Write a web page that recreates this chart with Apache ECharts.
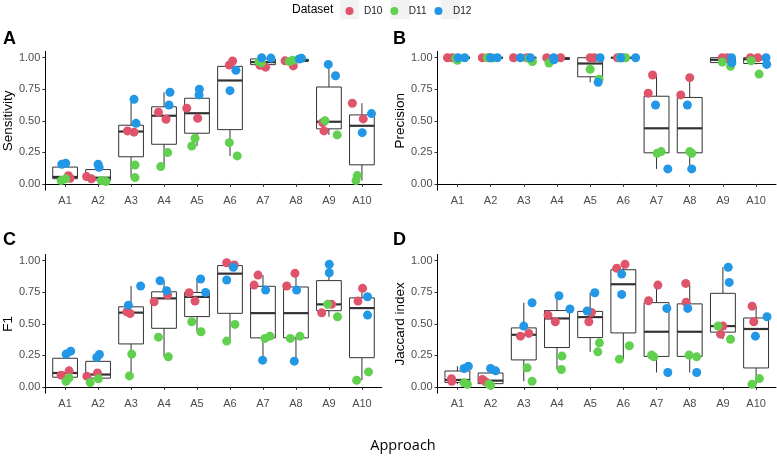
<!DOCTYPE html>
<html><head><meta charset="utf-8">
<script src="https://cdn.jsdelivr.net/npm/echarts@6/dist/echarts.min.js"></script>
<style>html,body{margin:0;padding:0;background:#fff}#c{width:777px;height:457px}</style>
</head><body><div id="c"></div>
<script>
// ---------- DATA ----------
const approaches = ['A1','A2','A3','A4','A5','A6','A7','A8','A9','A10'];
const datasets = ['D10','D11','D12'];
const metricNames = ['Sensitivity','Precision','F1','Jaccard index'];
const panelLetters = ['A','B','C','D'];
const yTicks = [0, 0.25, 0.5, 0.75, 1];
// two values per approach (A1a, A1b, A2a, A2b, ...)
const sensD10 = [0.065,0.045, 0.058,0.040, 0.42,0.41, 0.568,0.512, 0.60,0.52, 0.942,0.974, 0.94,0.925, 0.975,0.935, 0.485,0.42, 0.639,0.515];
const sensD11 = [0.026,0.040, 0.026,0.018, 0.15,0.05, 0.248,0.137, 0.362,0.30, 0.327,0.222, 0.97,0.96, 0.97,0.98, 0.50,0.388, 0.066,0.026];
const sensD12 = [0.156,0.164, 0.156,0.132, 0.67,0.48, 0.726,0.625, 0.75,0.705, 0.90,0.739, 1.0,0.997, 0.995,0.99, 0.947,0.857, 0.557,0.406];
const precD10 = [1,1, 1,1, 1,1, 1,1, 1,1, 1,1, 0.863,0.718, 0.842,0.705, 1,1, 1,1];
const precD11 = [0.98,0.995, 1,0.998, 0.97,0.995, 0.958,0.99, 0.908,0.829, 1,1, 0.243,0.256, 0.256,0.243, 0.966,0.932, 0.976,0.87];
const precD12 = [1,1, 1,1, 1,1, 0.984,1.0, 1.0,0.805, 1,1, 0.625,0.119, 0.625,0.119, 1.0,0.96, 1.0,0.947];
const f1D10 = [0.093,0.127, 0.085,0.111, 0.595,0.582, 0.675,0.728, 0.746,0.68, 0.984,0.966, 0.886,0.807, 0.90,0.80, 0.587,0.654, 0.781,0.68];
const f1D11 = [0.045,0.071, 0.035,0.064, 0.26,0.087, 0.394,0.238, 0.516,0.437, 0.363,0.495, 0.384,0.402, 0.384,0.402, 0.654,0.556, 0.053,0.119];
const f1D12 = [0.26,0.283, 0.233,0.257, 0.80,0.648, 0.841,0.762, 0.855,0.749, 0.948,0.847, 0.767,0.212, 0.767,0.204, 0.971,0.905, 0.714,0.569];
const jacD10 = [0.065,0.045, 0.059,0.040, 0.402,0.424, 0.569,0.516, 0.59,0.516, 0.94,0.971, 0.807,0.683, 0.82,0.67, 0.482,0.418, 0.64,0.516];
const jacD11 = [0.032,0.021, 0.021,0.013, 0.151,0.045, 0.244,0.138, 0.349,0.278, 0.22,0.326, 0.252,0.238, 0.252,0.238, 0.482,0.378, 0.021,0.066];
const jacD12 = [0.146,0.164, 0.146,0.127, 0.667,0.482, 0.722,0.617, 0.746,0.601, 0.894,0.733, 0.622,0.114, 0.622,0.114, 0.948,0.828, 0.556,0.402];
// horizontal jitter (in category units)
const sensJitD10 = [0.10,0.15, -0.35,-0.20, -0.11,0.09, -0.17,0.06, -0.31,0.02, -0.02,0.08, -0.09,0.08, -0.33,-0.08, -0.19,-0.15, -0.29,0.04];
const sensJitD11 = [-0.12,0.02, 0.10,0.24, 0.12,0.12, 0.11,-0.10, -0.06,-0.16, -0.02,0.22, -0.12,-0.05, -0.20,-0.10, -0.12,0.25, -0.14,-0.18];
const sensJitD12 = [-0.10,0.02, 0.00,0.03, 0.09,0.15, 0.18,0.15, 0.07,0.06, 0.18,0.00, -0.04,0.24, 0.17,0.10, -0.02,0.20, 0.29,0.01];
const precJitD10 = [-0.30,-0.15, -0.25,-0.05, -0.31,0.09, -0.31,0.11, 0.00,0.13, -0.18,-0.03, -0.12,-0.25, 0.00,-0.27, -0.02,0.13, -0.17,0.05];
const precJitD11 = [0.00,-0.05, -0.10,0.05, 0.26,0.15, -0.24,-0.10, 0.00,0.27, 0.07,-0.10, 0.02,0.14, 0.00,0.06, -0.02,0.23, -0.15,0.09];
const precJitD12 = [0.02,0.22, 0.00,0.20, -0.10,0.20, -0.09,-0.10, 0.30,0.24, -0.08,0.37, -0.03,0.34, -0.07,0.06, 0.26,0.27, 0.30,0.32];
const f1JitD10 = [-0.12,0.12, -0.34,-0.02, -0.13,-0.03, -0.30,0.11, -0.24,-0.06, -0.10,0.13, -0.15,-0.27, -0.03,-0.28, -0.22,0.08, 0.02,-0.12];
const f1JitD11 = [0.03,0.12, -0.24,0.01, 0.02,-0.05, -0.17,0.13, -0.16,0.12, -0.10,0.15, 0.06,0.21, -0.17,0.12, -0.04,0.26, -0.16,0.20];
const f1JitD12 = [0.03,0.17, -0.04,0.04, 0.29,-0.08, -0.12,0.08, 0.11,0.26, 0.10,-0.10, 0.08,-0.01, 0.02,-0.05, 0.01,0.01, 0.17,0.17];
const jacJitD10 = [-0.18,-0.17, -0.25,-0.15, -0.10,0.15, -0.27,-0.05, 0.04,-0.04, -0.20,0.05, 0.04,-0.24, -0.12,-0.11, 0.00,-0.07, -0.12,-0.07];
const jacJitD11 = [0.20,0.30, -0.05,0.00, 0.10,0.25, 0.15,0.13, 0.28,0.23, -0.12,0.18, -0.15,-0.08, -0.02,0.21, -0.15,0.23, -0.12,0.10];
const jacJitD12 = [0.20,0.33, 0.00,0.15, 0.25,0.00, 0.06,0.39, 0.14,-0.09, -0.05,-0.05, 0.31,0.34, -0.06,0.21, 0.16,0.19, 0.33,-0.02];

const panelValues = [[sensD10,sensD11,sensD12],[precD10,precD11,precD12],[f1D10,f1D11,f1D12],[jacD10,jacD11,jacD12]];
const panelJitter = [[sensJitD10,sensJitD11,sensJitD12],[precJitD10,precJitD11,precJitD12],[f1JitD10,f1JitD11,f1JitD12],[jacJitD10,jacJitD11,jacJitD12]];

// ---------- STYLE / LAYOUT ----------
const colors = ['#DF536B','#61D04F','#2297E6'];
const grids = [
  {left:45, top:51.4, width:336.7, height:138.8},
  {left:437.5, top:51.4, width:338.5, height:138.8},
  {left:45, top:254.4, width:336.7, height:138.8},
  {left:437.5, top:254.4, width:338.5, height:138.8}
];
const letterPos = [[3,39.5],[393,39.5],[3,240.5],[393,240.5]];
const FONT = 'Liberation Sans, Arial, sans-serif';

// R type-7 quantile
function quantile(sorted, p){
  const h = (sorted.length-1)*p, lo = Math.floor(h), hi = Math.ceil(h);
  return sorted[lo] + (h-lo)*(sorted[hi]-sorted[lo]);
}
function boxStats(vals){
  const s = vals.slice().sort((a,b)=>a-b);
  const q1 = quantile(s,0.25), med = quantile(s,0.5), q3 = quantile(s,0.75);
  const iqr = q3-q1;
  const lo = Math.min(...s.filter(v=>v>=q1-1.5*iqr));
  const hi = Math.max(...s.filter(v=>v<=q3+1.5*iqr));
  return [lo,q1,med,q3,hi];
}

function renderBox(params, api){
  const x = api.value(0), lo = api.value(1), q1 = api.value(2), med = api.value(3), q3 = api.value(4), hi = api.value(5);
  const half = 0.375;
  const tl = api.coord([x-half,q3]), br = api.coord([x+half,q1]);
  const pHi = api.coord([x,hi]), pLo = api.coord([x,lo]);
  const pQ3 = api.coord([x,q3]), pQ1 = api.coord([x,q1]);
  const mL = api.coord([x-half,med]), mR = api.coord([x+half,med]);
  const ls = {stroke:'#333333', lineWidth:1, fill:null};
  return {type:'group', children:[
    {type:'line', shape:{x1:pHi[0],y1:pHi[1],x2:pQ3[0],y2:pQ3[1]}, style:ls},
    {type:'line', shape:{x1:pLo[0],y1:pLo[1],x2:pQ1[0],y2:pQ1[1]}, style:ls},
    {type:'rect', shape:{x:tl[0],y:tl[1],width:br[0]-tl[0],height:br[1]-tl[1]}, style:{fill:'#ffffff',stroke:'#333333',lineWidth:1}},
    {type:'line', shape:{x1:mL[0],y1:mL[1],x2:mR[0],y2:mR[1]}, style:{stroke:'#333333',lineWidth:2.2}}
  ]};
}

const xAxes = [], yAxes = [], series = [];
const approachIdx = approaches.map((a,i)=>i+1);
for (let p=0;p<4;p++){
  xAxes.push({
    gridIndex:p, type:'value', min:0.4, max:10.6,
    axisLine:{show:true, lineStyle:{color:'#000', width:1}},
    axisTick:{show:true, customValues:approachIdx, length:3, lineStyle:{color:'#333'}},
    axisLabel:{customValues:approachIdx, formatter:v=>approaches[Math.round(v)-1], color:'#4D4D4D', fontSize:11, fontFamily:FONT, margin:5},
    splitLine:{show:false}
  });
  yAxes.push({
    gridIndex:p, type:'value', min:-0.05, max:1.05,
    name:metricNames[p], nameLocation:'middle', nameGap:29,
    nameTextStyle:{color:'#000', fontSize:13.5, fontFamily:FONT},
    axisLine:{show:true, lineStyle:{color:'#000', width:1}},
    axisTick:{show:true, customValues:yTicks, length:3, lineStyle:{color:'#333'}},
    axisLabel:{customValues:yTicks, formatter:v=>v.toFixed(2), color:'#4D4D4D', fontSize:11, fontFamily:FONT, margin:5},
    splitLine:{show:false}
  });
  // boxes computed from all points of each approach
  const boxData = approaches.map((a,i)=>{
    const vals = [];
    panelValues[p].forEach(arr=>{vals.push(arr[2*i], arr[2*i+1]);});
    return [i+1].concat(boxStats(vals));
  });
  series.push({
    type:'custom', xAxisIndex:p, yAxisIndex:p, renderItem:renderBox, data:boxData,
    encode:{x:0, y:[1,2,3,4,5]}, z:2, silent:true
  });
  datasets.forEach((d,k)=>{
    const vals = panelValues[p][k], jit = panelJitter[p][k];
    series.push({
      type:'scatter', name:d, xAxisIndex:p, yAxisIndex:p, z:3,
      symbol:'circle', symbolSize:9,
      itemStyle:{color:colors[k], opacity:1},
      data: vals.map((v,j)=>[Math.floor(j/2)+1+jit[j], v])
    });
  });
}

const graphics = [];
[340, 390.7, 440.7].forEach(x=>graphics.push({type:'rect', shape:{x:x,y:0,width:19.3,height:19.3}, style:{fill:'#F2F2F2'}, z:-1}));
graphics.push({type:'text', x:292, y:10, style:{text:'Dataset', fontSize:12, fontFamily:FONT, fill:'#000', verticalAlign:'middle', align:'left'}});
panelLetters.forEach((t,i)=>graphics.push({type:'text', x:letterPos[i][0], y:letterPos[i][1], style:{text:t, fontSize:18, fontWeight:'bold', fontFamily:FONT, fill:'#000', verticalAlign:'middle', align:'left'}}));
graphics.push({type:'text', x:403, y:446, style:{text:'Approach', fontSize:14.5, fontFamily:'Open Sans, sans-serif', fill:'#000', verticalAlign:'middle', align:'center'}});

const chart = echarts.init(document.getElementById('c'), null, {renderer:'canvas'});
chart.setOption({
  animation:false,
  backgroundColor:'#ffffff',
  grid:grids,
  xAxis:xAxes, yAxis:yAxes,
  legend:{data:datasets, left:340.5, top:1, icon:'circle', itemWidth:19, itemHeight:8, itemGap:8, z:10,
    textStyle:{fontSize:10, fontFamily:FONT, color:'#1A1A1A'}, selectedMode:false},
  graphic:{elements:graphics},
  series:series
});
</script></body></html>
